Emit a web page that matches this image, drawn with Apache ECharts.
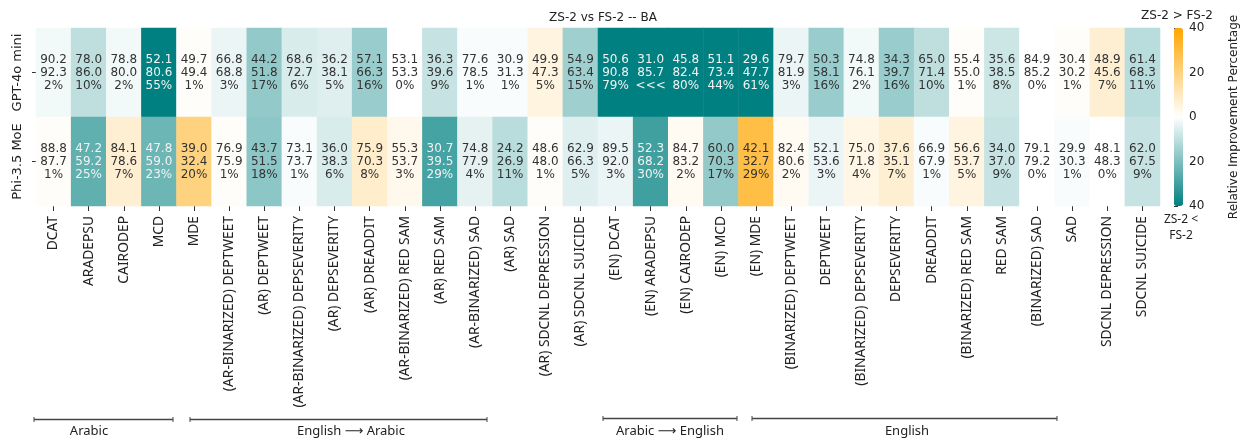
<!DOCTYPE html>
<html>
<head>
<meta charset="utf-8">
<script src="https://cdn.jsdelivr.net/npm/echarts@6/dist/echarts.min.js"></script>
<style>
html,body{margin:0;padding:0;background:#fff;}
#chart{width:1244px;height:440px;}
</style>
</head>
<body>
<div id="chart"></div>
<script>
const categories = [
  'DCAT','ARADEPSU','CAIRODEP','MCD','MDE',
  '(AR-BINARIZED) DEPTWEET','(AR) DEPTWEET','(AR-BINARIZED) DEPSEVERITY','(AR) DEPSEVERITY','(AR) DREADDIT',
  '(AR-BINARIZED) RED SAM','(AR) RED SAM','(AR-BINARIZED) SAD','(AR) SAD','(AR) SDCNL DEPRESSION','(AR) SDCNL SUICIDE',
  '(EN) DCAT','(EN) ARADEPSU','(EN) CAIRODEP','(EN) MCD','(EN) MDE',
  '(BINARIZED) DEPTWEET','DEPTWEET','(BINARIZED) DEPSEVERITY','DEPSEVERITY','DREADDIT',
  '(BINARIZED) RED SAM','RED SAM','(BINARIZED) SAD','SAD','SDCNL DEPRESSION','SDCNL SUICIDE'
];
const models = ['GPT-4o mini', 'Phi-3.5 MoE'];

// ZS-2 score, FS-2 score, signed relative improvement (+ : ZS-2 > FS-2)
const gptZS = [90.2,78.0,78.8,52.1,49.7, 66.8,44.2,68.6,36.2,57.1,53.1,36.3,77.6,30.9,49.9,54.9, 50.6,31.0,45.8,51.1,29.6, 79.7,50.3,74.8,34.3,65.0,55.4,35.6,84.9,30.4,48.9,61.4];
const gptFS = [92.3,86.0,80.0,80.6,49.4, 68.8,51.8,72.7,38.1,66.3,53.3,39.6,78.5,31.3,47.3,63.4, 90.8,85.7,82.4,73.4,47.7, 81.9,58.1,76.1,39.7,71.4,55.0,38.5,85.2,30.2,45.6,68.3];
const gptPct = [-2,-10,-2,-55,1, -3,-17,-6,-5,-16,0,-9,-1,-1,5,-15, -79,-176,-80,-44,-61, -3,-16,-2,-16,-10,1,-8,0,1,7,-11];

const phiZS = [88.8,47.2,84.1,47.8,39.0, 76.9,43.7,73.1,36.0,75.9,55.3,30.7,74.8,24.2,48.6,62.9, 89.5,52.3,84.7,60.0,42.1, 82.4,52.1,75.0,37.6,66.9,56.6,34.0,79.1,29.9,48.1,62.0];
const phiFS = [87.7,59.2,78.6,59.0,32.4, 75.9,51.5,73.7,38.3,70.3,53.7,39.5,77.9,26.9,48.0,66.3, 92.0,68.2,83.2,70.3,32.7, 80.6,53.6,71.8,35.1,67.9,53.7,37.0,79.2,30.3,48.3,67.5];
const phiPct = [1,-25,7,-23,20, 1,-18,-1,-6,8,3,-29,-4,-11,1,-5, -3,-30,2,-17,29, 2,-3,4,7,-1,5,-9,0,-1,0,-9];

const colorbarTicks = [-40, -20, 0, 20, 40];
const groups = [
  {name: 'Arabic', x1: 34, x2: 173, y: 419.5, lx: 89},
  {name: 'English \u27F6 Arabic', x1: 190, x2: 487, y: 419.5, lx: 351},
  {name: 'Arabic \u27F6 English', x1: 603, x2: 737, y: 418.5, lx: 670},
  {name: 'English', x1: 752, x2: 1057, y: 418.5, lx: 907}
];

const rows = [[gptZS, gptFS, gptPct], [phiZS, phiFS, phiPct]];
const data = [];
rows.forEach((r, yi) => {
  categories.forEach((c, xi) => {
    const p = r[2][xi];
    const clamped = Math.max(-40, Math.min(40, p));
    const pctText = Math.abs(p) >= 100 ? '<<<' : Math.abs(p) + '%';
    data.push({
      value: [xi, yi, clamped],
      label: {
        formatter: r[0][xi].toFixed(1) + '\n' + r[1][xi].toFixed(1) + '\n' + pctText,
        color: p <= -22.5 ? '#f2f2f2' : '#333333'
      }
    });
  });
});

const graphics = [];
groups.forEach(g => {
  graphics.push({type:'line', shape:{x1:g.x1, y1:g.y, x2:g.x2, y2:g.y}, style:{stroke:'#444', lineWidth:1.5}, silent:true});
  graphics.push({type:'line', shape:{x1:g.x1, y1:g.y-2.5, x2:g.x1, y2:g.y+2.5}, style:{stroke:'#444', lineWidth:1}, silent:true});
  graphics.push({type:'line', shape:{x1:g.x2, y1:g.y-2.5, x2:g.x2, y2:g.y+2.5}, style:{stroke:'#444', lineWidth:1}, silent:true});
  graphics.push({type:'text', style:{text:g.name, x:g.lx, y:431, align:'center', verticalAlign:'middle', fontSize:13, fontFamily:'"Noto Sans", "DejaVu Sans", sans-serif', fill:'#222'}, silent:true});
});
graphics.push({type:'text', style:{text:'ZS-2 > FS-2', x:1177, y:16, align:'center', verticalAlign:'middle', fontSize:12, fontFamily:'"DejaVu Sans", sans-serif', fill:'#222'}, silent:true});
graphics.push({type:'text', style:{text:'ZS-2 <\nFS-2', x:1181, y:228, align:'center', verticalAlign:'middle', fontSize:12, lineHeight:16, fontFamily:'"Noto Sans", "DejaVu Sans", sans-serif', fill:'#222'}, silent:true});

const chart = echarts.init(document.getElementById('chart'), null, {renderer:'canvas'});
chart.setOption({
  animation: false,
  backgroundColor: '#ffffff',
  title: {
    text: 'ZS-2 vs FS-2 -- BA',
    left: 598, top: 7, textAlign: 'center',
    textStyle: {fontSize: 12, fontWeight: 'normal', color: '#222', fontFamily: '"DejaVu Sans", sans-serif'}
  },
  grid: [
    {left: 36, top: 28, width: 1124, height: 178},
    {left: 1174, top: 28, width: 9, height: 178}
  ],
  xAxis: [
    {
      type: 'category', data: categories, gridIndex: 0, position: 'bottom',
      axisLine: {show: false},
      axisTick: {show: true, alignWithLabel: true, length: 5, lineStyle: {color: '#333'}},
      axisLabel: {rotate: 90, interval: 0, margin: 10, fontSize: 13.8, color: '#222', fontFamily: '"Noto Sans", "DejaVu Sans", sans-serif'},
      splitLine: {show: false}
    },
    {type: 'value', gridIndex: 1, show: false, min: 0, max: 1}
  ],
  yAxis: [
    {
      type: 'category', data: models, gridIndex: 0, inverse: true,
      axisLine: {show: false},
      axisTick: {show: true, alignWithLabel: true, interval: 0, length: 4, lineStyle: {color: '#333'}},
      axisLabel: {rotate: 90, interval: 0, hideOverlap: false, margin: 12, fontSize: 13, color: '#222', fontFamily: '"DejaVu Sans", sans-serif'},
      splitLine: {show: false}
    },
    {
      type: 'value', gridIndex: 1, position: 'right', min: -40, max: 40, interval: 20,
      axisLine: {show: false},
      axisTick: {show: true, length: 4, lineStyle: {color: '#333'}},
      axisLabel: {margin: 6, fontSize: 12, color: '#222', fontFamily: '"DejaVu Sans", sans-serif', formatter: v => String(Math.abs(v))},
      splitLine: {show: false},
      name: 'Relative Improvement Percentage', nameLocation: 'middle', nameRotate: 90, nameGap: 45,
      nameTextStyle: {fontSize: 12, color: '#222', fontFamily: '"DejaVu Sans", sans-serif'}
    }
  ],
  visualMap: {
    type: 'continuous', min: -40, max: 40, dimension: 2, seriesIndex: 0,
    orient: 'vertical', left: 1174, top: 28, itemWidth: 9, itemHeight: 178,
    padding: 0, calculable: false, realtime: false, text: null, showLabel: false,
    inRange: {color: ['#008080', '#ffffff', '#ffa500']}
  },
  series: [{
    type: 'heatmap', xAxisIndex: 0, yAxisIndex: 0, data: data,
    label: {show: true, fontSize: 12, lineHeight: 13, fontFamily: '"DejaVu Sans", sans-serif', align: 'center', verticalAlign: 'middle'},
    itemStyle: {borderWidth: 0},
    emphasis: {disabled: true}
  }],
  graphic: graphics
});
</script>
</body>
</html>
